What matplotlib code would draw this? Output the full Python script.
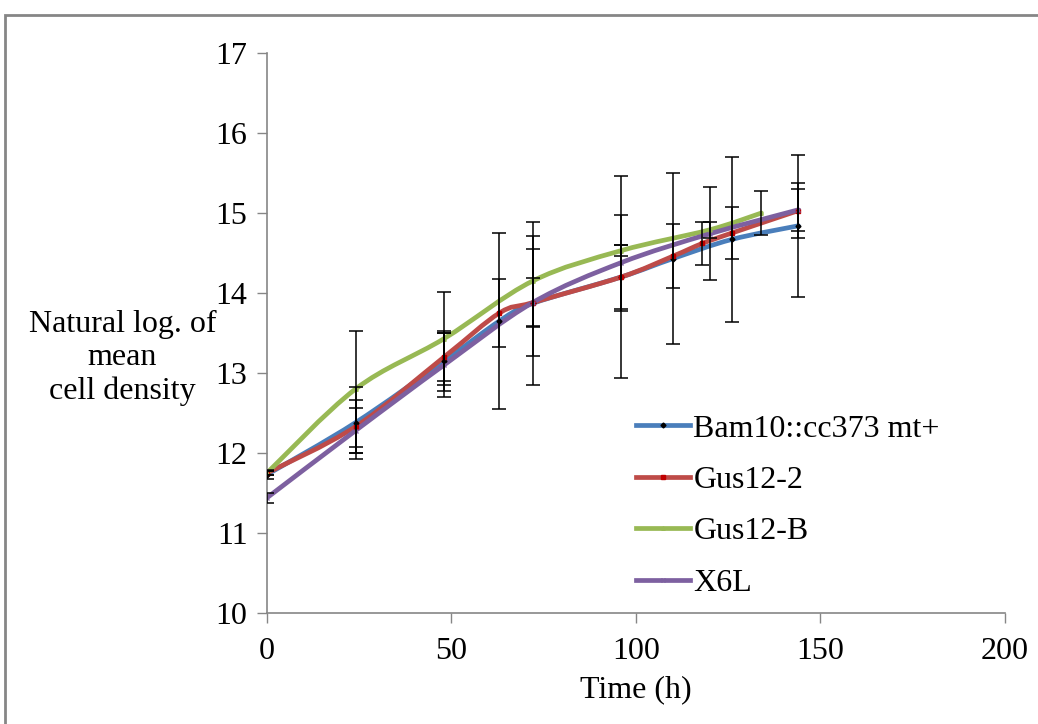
import matplotlib.pyplot as plt
import numpy as np
from matplotlib.path import Path
from matplotlib.patches import PathPatch, Rectangle
from matplotlib.lines import Line2D

plt.rcParams['font.family'] = ['Liberation Serif', 'DejaVu Serif']

series_names = ['Bam10::cc373 mt+', 'Gus12-2', 'Gus12-B', 'X6L']

t_bam = [0, 24, 48, 63, 72, 96, 110, 126, 144]
y_bam = [11.73, 12.38, 13.15, 13.65, 13.87, 14.20, 14.43, 14.67, 14.84]
e_bam = [0.06, 0.45, 0.38, 1.10, 1.02, 1.26, 1.07, 1.03, 0.89]

t_gus2 = [0, 24, 48, 63, 72, 96, 110, 118, 126, 144]
y_gus2 = [11.75, 12.33, 13.20, 13.75, 13.88, 14.20, 14.46, 14.62, 14.75, 15.03]
e_gus2 = [0.03, 0.33, 0.30, 0.43, 0.67, 0.40, 0.40, 0.27, 0.33, 0.34]

t_gusb = [0, 24, 48, 72, 96, 120, 134]
y_gusb = [11.75, 12.80, 13.43, 14.15, 14.53, 14.79, 15.00]
e_gusb = [0.03, 0.73, 0.58, 0.56, 0.07, 0.10, 0.27]

t_x6l = [0, 24, 48, 72, 96, 120, 144]
y_x6l = [11.44, 12.28, 13.10, 13.88, 14.38, 14.74, 15.04]
e_x6l = [0.06, 0.28, 0.40, 0.31, 0.60, 0.58, 0.26]

colors = ['#4A7EBB', '#BE4B48', '#98B954', '#7D60A0']
markers = ['D', 's', '^', 'x']
mcolors = ['black', '#C00000', '#98B954', '#7D60A0']

FS = 23


def smooth_path(x, y):
    # excel style bezier smoothing between the points
    pts = np.column_stack([x, y]).astype(float)
    n = len(pts)
    verts = [pts[0]]
    codes = [Path.MOVETO]
    for i in range(n - 1):
        p0 = pts[i - 1] if i > 0 else pts[i]
        p1 = pts[i]
        p2 = pts[i + 1]
        p3 = pts[i + 2] if i + 2 < n else pts[i + 1]
        c1 = p1 + (p2 - p0) / 6.0
        c2 = p2 - (p3 - p1) / 6.0
        verts += [c1, c2, p2]
        codes += [Path.CURVE4] * 3
    return Path(verts, codes)


fig = plt.figure(figsize=(10.38, 7.24), dpi=100)
ax = fig.add_axes([0.2572, 0.1533, 0.7110, 0.7735])

data = [(t_bam, y_bam, e_bam), (t_gus2, y_gus2, e_gus2),
        (t_gusb, y_gusb, e_gusb), (t_x6l, y_x6l, e_x6l)]

handles = []
for (t, y, e), c, m, mc, name in zip(data, colors, markers, mcolors, series_names):
    ax.add_patch(PathPatch(smooth_path(t, y), facecolor='none', edgecolor=c,
                           lw=3.4, capstyle='round', zorder=2))
    ax.plot(t, y, linestyle='none', marker=m, color=mc, ms=2.5, mew=1, zorder=3)
    ax.errorbar(t, y, yerr=e, fmt='none', ecolor='black', elinewidth=1.1,
                capsize=5, capthick=1.1, zorder=4)
    handles.append(Line2D([], [], color=c, lw=3.4, marker=m, ms=2.5,
                          mfc=mc, mec=mc, label=name))

ax.set_xlim(0, 200)
ax.set_ylim(10, 17)
ax.set_xticks([0, 50, 100, 150, 200])
ax.set_yticks(range(10, 18))
ax.tick_params(labelsize=FS, length=7, width=1, color='#868686')
ax.tick_params(axis='y', pad=7)
ax.tick_params(axis='x', pad=10)
for s in ['top', 'right']:
    ax.spines[s].set_visible(False)
for s in ['left', 'bottom']:
    ax.spines[s].set_color('#868686')
    ax.spines[s].set_linewidth(1.2)

ax.set_xlabel('Time (h)', fontsize=FS, labelpad=7)
fig.text(0.118, 0.5055, 'Natural log. of\nmean\ncell density', fontsize=FS,
         ha='center', va='center', linespacing=1.17)

ax.legend(handles=handles, loc='upper left', bbox_to_anchor=(0.5, 0.355),
          frameon=False, fontsize=FS, handlelength=1.7, handletextpad=0.1,
          labelspacing=0.69, borderaxespad=0, borderpad=0)

# chart area border
fig.patches.append(Rectangle((5 / 1038, -0.1), 1.2, 1 - 15 / 724 + 0.1,
                             transform=fig.transFigure, fill=False,
                             edgecolor='#868686', lw=2))

fig.savefig('out.png', dpi=100)
